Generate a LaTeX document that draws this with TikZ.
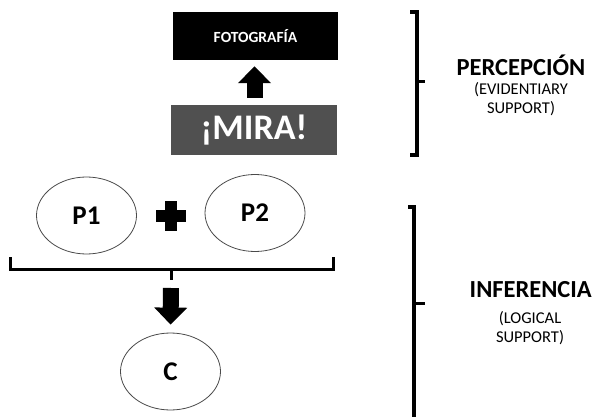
\documentclass[tikz,border=0pt]{standalone}
\usepackage{fontspec}
\setmainfont{Carlito}
\usepackage{tikz}
\usetikzlibrary{positioning, arrows.meta, shapes.geometric}
\definecolor{miragray}{HTML}{505050}
\definecolor{ringgray}{HTML}{4A4A4A}

\begin{document}
\begin{tikzpicture}[
    x=1pt, y=-1pt,
    premise/.style={draw=ringgray, line width=0.8pt, ellipse, fill=white,
        minimum width=100pt, minimum height=77pt, inner sep=0pt,
        font=\fontsize{27}{30}\selectfont\bfseries},
    bigarrow/.style={line width=16pt, -{Triangle[length=17pt, width=32pt]}},
    bracket/.style={line width=4pt, line join=miter, line cap=butt},
    title/.style={font=\fontsize{24.5}{28}\selectfont\bfseries, inner sep=0pt},
    subtitle/.style={font=\fontsize{16.5}{19}\selectfont, align=center, inner sep=0pt},
]
\useasboundingbox (0,0) rectangle (594,417);
\clip (0,0) rectangle (594,417);

% Percepcion
\node[fill=black, text=white, minimum width=165pt, minimum height=48pt, inner sep=0pt,
    font=\fontsize{15.5}{18}\selectfont\bfseries] (foto) at (255.5,36) {FOTOGRAF\'IA};
\node[fill=miragray, text=white, minimum width=166pt, minimum height=50pt, inner sep=0pt,
    font=\fontsize{36}{40}\selectfont\bfseries] (mira) at (254,130) {¡MIRA!};
\draw[bigarrow, shorten <=7pt, shorten >=6pt] (mira.north -| 254.5,0) -- (foto.south -| 254.5,0);

% Inferencia
\node[premise] (p1) at (86.5,215.5) {P1};
\node[premise] (p2) at (255,213) {P2};
\fill (165,201) rectangle (177,231);
\fill (156,210) rectangle (186,222);
\draw[line width=3pt] (10,257) -- (10,269) -- (333,269) -- (333,257);
\draw[line width=3pt] (171,269) -- (171,280) coordinate (join);
\node[premise] (c) at (170.5,371.5) {C};
\draw[bigarrow, shorten <=8pt, shorten >=8pt] (join) -- (c.north);

% Brackets
\draw[bracket] (410,12) -- (417,12) -- (417,155) -- (410,155);
\draw[line width=3pt] (417,82) -- (425,82);
\draw[bracket] (408,207) -- (414,207) -- (414,425);
\draw[line width=3pt] (414,303) -- (425,303);

% Labels
\node[title] (perc) at (521,65) {PERCEPCI\'ON};
\node[subtitle, below=7pt of perc.south, anchor=north] (percsub) {(EVIDENTIARY\\SUPPORT)};
\node[title, anchor=east] (infer) at (592,290) {INFERENCIA};
\node[subtitle, anchor=north] (infersub) at (530,311) {(LOGICAL\\SUPPORT)};

\end{tikzpicture}
\end{document}
